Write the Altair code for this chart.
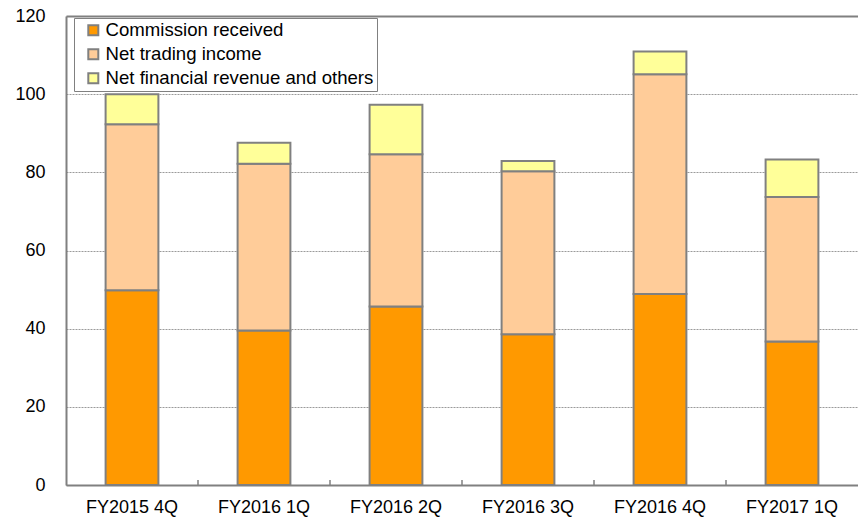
import altair as alt
import pandas as pd

# Quarterly net operating revenue breakdown (billions of yen)
quarters = ["FY2015 4Q", "FY2016 1Q", "FY2016 2Q", "FY2016 3Q", "FY2016 4Q", "FY2017 1Q"]
series = ["Commission received", "Net trading income", "Net financial revenue and others"]
commission = [49.8, 39.5, 45.7, 38.6, 48.9, 36.7]
trading = [42.5, 42.7, 38.9, 41.7, 56.2, 37.0]
others = [7.7, 5.4, 12.7, 2.6, 5.8, 9.6]
colors = ["#FF9900", "#FFCC99", "#FFFF99"]
y_ticks = [0, 20, 40, 60, 80, 100, 120]

rows = []
for i, q in enumerate(quarters):
    for k, (name, vals) in enumerate(zip(series, [commission, trading, others])):
        rows.append({"quarter": q, "series": name, "order": k, "value": vals[i]})
df = pd.DataFrame(rows)

FONT = "Liberation Sans"
FONT_SIZE = 18
GRAY = "#808080"
PAD_INNER = 0.6
STEP = 132

x_scale = alt.Scale(domain=quarters, paddingInner=PAD_INNER, paddingOuter=PAD_INNER / 2)

bars = alt.Chart(df).mark_bar(stroke=GRAY, strokeWidth=2).encode(
    x=alt.X(
        "quarter:N",
        scale=x_scale,
        sort=quarters,
        axis=alt.Axis(
            title=None,
            labelAngle=0,
            labelFont=FONT,
            labelFontSize=FONT_SIZE,
            labelColor="black",
            labelPadding=13,
            ticks=False,
            domainColor=GRAY,
            domainWidth=2,
            grid=False,
        ),
    ),
    y=alt.Y(
        "value:Q",
        stack="zero",
        scale=alt.Scale(domain=[0, 120], nice=False),
        axis=alt.Axis(
            title=None,
            values=y_ticks,
            labelFont=FONT,
            labelFontSize=FONT_SIZE,
            labelColor="black",
            labelPadding=21,
            ticks=False,
            domainColor=GRAY,
            domainWidth=2,
            grid=True,
            gridColor={"condition": {"test": "datum.value === 120", "value": GRAY}, "value": "#9a9a9a"},
            gridWidth={"condition": {"test": "datum.value === 120", "value": 2}, "value": 1},
            gridDash={"condition": {"test": "datum.value === 120", "value": []}, "value": [2, 1]},
        ),
    ),
    color=alt.Color(
        "series:N",
        scale=alt.Scale(domain=series, range=colors),
        legend=alt.Legend(
            title=None,
            orient="none",
            legendX=8,
            legendY=2,
            direction="vertical",
            symbolType="square",
            symbolSize=100,
            symbolStrokeColor=GRAY,
            symbolStrokeWidth=2,
            symbolOffset=7,
            labelOffset=3,
            labelFont=FONT,
            labelFontSize=18.6,
            labelColor="black",
            labelLimit=500,
            rowPadding=5,
            padding=3,
            strokeColor=GRAY,
            fillColor="white",
        ),
    ),
    order=alt.Order("order:Q", sort="ascending"),
)

# small upward tick marks at the category boundaries on the x axis
tick_df = pd.DataFrame({"quarter": quarters[1:]})
ticks = alt.Chart(tick_df).mark_rule(
    color=GRAY, strokeWidth=1.5, xOffset=-PAD_INNER * STEP / 2
).encode(
    x=alt.X("quarter:N", scale=x_scale, sort=quarters, bandPosition=0),
    y=alt.value(469),
    y2=alt.value(464),
)

chart = (
    alt.layer(bars, ticks)
    .properties(
        width=6 * STEP,
        height=469,
        autosize=alt.AutoSizeParams(type="none"),
        padding={"left": 66, "top": 16, "right": 0, "bottom": 33},
    )
    .configure_view(stroke=None)
    .configure(background="white")
)

chart.save("out.html", embed_options={"renderer": "svg", "actions": False})
